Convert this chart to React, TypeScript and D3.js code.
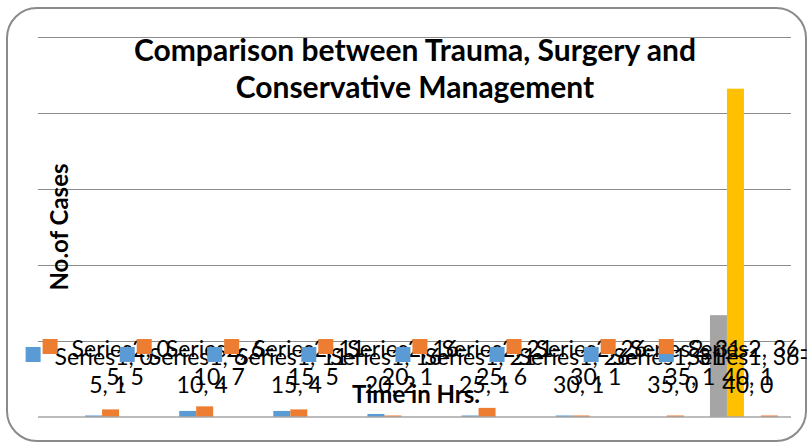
import React, { useRef, useEffect } from 'react';
import * as d3 from 'd3';

// data
const categories = ['0-5', '6-10', '11-15', '16-20', '21-25', '26-30', '31-35', '36-40'];
const series1 = [1, 4, 4, 2, 1, 1, 0, 0];
const series2 = [5, 7, 5, 1, 6, 1, 1, 1];
const series3 = [0, 0, 0, 0, 0, 0, 0, 67];
const series4 = [0, 0, 0, 0, 0, 0, 0, 216];
const yTicks = [0, 50, 100, 150, 200, 250];
const titleLines = ['Comparison between Trauma, Surgery and', 'Conservative Management'];

const W = 812;
const H = 444;
const font = 'Lato, "Open Sans", sans-serif';

const App = () => {
  const chartRef = useRef(null);

  useEffect(() => {
    const root = d3.select(chartRef.current);
    root.selectAll('*').remove();

    const svg = root
      .append('svg')
      .attr('width', W)
      .attr('height', H)
      .style('position', 'absolute')
      .style('left', 0)
      .style('top', 0);

    svg.append('rect').attr('width', W).attr('height', H).attr('fill', '#fff');

    // chart frame
    svg
      .append('rect')
      .attr('x', 7)
      .attr('y', 8)
      .attr('width', 799)
      .attr('height', 433)
      .attr('rx', 30)
      .attr('fill', '#fff')
      .attr('stroke', '#8a8a8a')
      .attr('stroke-width', 2);

    const yScale = d3.scaleLinear().domain([0, 250]).range([417, 37]);
    const x0 = d3.scaleBand().domain(categories).range([38, 791]);

    const bars = [
      { key: 'Series3', values: series3, color: '#A5A5A5' },
      { key: 'Series4', values: series4, color: '#FFC000' },
      { key: 'Series1', values: series1, color: '#5B9BD5' },
      { key: 'Series2', values: series2, color: '#ED7D31' },
    ];
    const x1 = d3
      .scaleBand()
      .domain(bars.map(b => b.key))
      .range([0, x0.bandwidth()])
      .paddingOuter(0.77);

    // gridlines
    svg
      .selectAll('.grid')
      .data(yTicks.filter(t => t > 0))
      .enter()
      .append('line')
      .attr('x1', 38)
      .attr('x2', 791)
      .attr('y1', d => Math.round(yScale(d)) + 0.5)
      .attr('y2', d => Math.round(yScale(d)) + 0.5)
      .attr('stroke', '#8c8c8c')
      .attr('stroke-width', 1);

    // bars
    bars.forEach(b => {
      svg
        .selectAll('.bar-' + b.key)
        .data(b.values)
        .enter()
        .append('rect')
        .attr('x', (d, i) => x0(categories[i]) + x1(b.key))
        .attr('y', d => yScale(d))
        .attr('width', x1.bandwidth())
        .attr('height', d => yScale(0) - yScale(d))
        .attr('fill', b.color);
    });

    // baseline
    svg
      .append('line')
      .attr('x1', 38)
      .attr('x2', 791)
      .attr('y1', yScale(0))
      .attr('y2', yScale(0))
      .attr('stroke', '#a6a6a6')
      .attr('stroke-width', 1.5);

    // title
    svg
      .selectAll('.title')
      .data(titleLines)
      .enter()
      .append('text')
      .attr('x', 415)
      .attr('y', (d, i) => 61 + i * 37)
      .attr('text-anchor', 'middle')
      .style('font-family', font)
      .style('font-weight', 'bold')
      .style('font-size', '30px')
      .style('fill', '#000')
      .text(d => d);

    // data labels: legend key + "SeriesN, lo-" / "hi, value"
    const labelled = [
      { key: 'Series1', values: series1, color: '#5B9BD5', base: 365 },
      { key: 'Series2', values: series2, color: '#ED7D31', base: 357 },
    ];
    categories.forEach((cat, i) => {
      const [lo, hi] = cat.split('-');
      labelled.forEach(s => {
        const cx = x0(cat) + x1(s.key) + x1.bandwidth() / 2;
        const g = svg.append('g');
        const t1 = g
          .append('text')
          .attr('y', s.base)
          .style('font-family', font)
          .style('font-size', '23px')
          .style('fill', '#000')
          .text(`${s.key}, ${lo}-`);
        const tw = t1.node().getComputedTextLength();
        const total = 29 + tw;
        const left = Math.min(cx - total / 2, 808 - total);
        t1.attr('x', left + 29);
        g.append('rect')
          .attr('x', left)
          .attr('y', s.base - 18)
          .attr('width', 15)
          .attr('height', 15)
          .attr('fill', s.color);
        g.append('text')
          .attr('x', left + 29 + tw / 2)
          .attr('y', s.base + 28)
          .attr('text-anchor', 'middle')
          .style('font-family', font)
          .style('font-size', '23px')
          .style('fill', '#000')
          .text(`${hi}, ${s.values[i]}`);
      });
    });

    // axis titles
    svg
      .append('text')
      .attr('x', 416)
      .attr('y', 403)
      .attr('text-anchor', 'middle')
      .style('font-family', font)
      .style('font-weight', 'bold')
      .style('font-size', '24px')
      .style('fill', '#000')
      .text('Time in Hrs.');

    svg
      .append('text')
      .attr('transform', 'translate(68,227) rotate(-90)')
      .attr('text-anchor', 'middle')
      .style('font-family', font)
      .style('font-weight', 'bold')
      .style('font-size', '24px')
      .style('fill', '#000')
      .text('No.of Cases');
  }, []);

  return <div ref={chartRef} className="bar-chart"></div>;
};

export default App;
